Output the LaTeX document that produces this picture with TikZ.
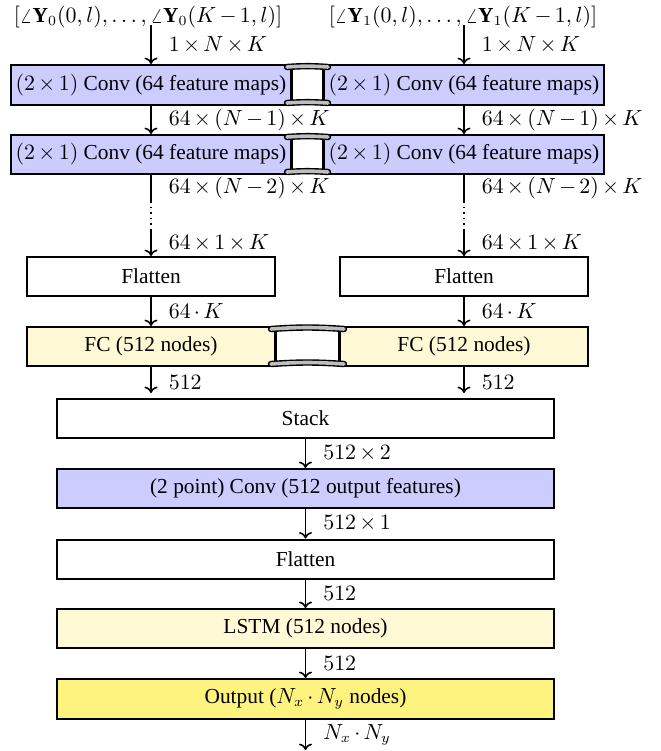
\documentclass[tikz,border=0pt]{standalone}
\usepackage{fontspec}
\setmainfont{Liberation Serif}
\usetikzlibrary{calc,arrows.meta}
\definecolor{convblue}{RGB}{204,204,255}
\definecolor{fcyellow}{RGB}{255,249,214}
\definecolor{outyellow}{RGB}{255,243,128}
\definecolor{bargray}{RGB}{190,190,190}
\medmuskip=2.7mu\relax
\begin{document}
\begin{tikzpicture}[x=0.5pt,y=-0.5pt,
  every node/.style={font=\fontsize{10.7pt}{13pt}\selectfont, inner sep=0pt},
  layer/.style={draw=black, line width=1pt, rectangle, anchor=center},
  convbox/.style={layer, fill=convblue, minimum width=140pt, minimum height=20pt},
  flatbox/.style={layer, fill=white, minimum width=124pt, minimum height=19.5pt},
  fcbox/.style={layer, fill=fcyellow, minimum width=124pt, minimum height=19.5pt},
  widebox/.style={layer, minimum width=248.5pt, minimum height=19.5pt},
  arr/.style={-{To[length=3.2pt,width=6.5pt]}, line width=0.8pt},
  lab/.style={right, xshift=8.5pt},
  shbar/.style={line width=3.2pt, line cap=round, black},
  shbarin/.style={line width=1.8pt, line cap=round, bargray}
]
\useasboundingbox (0,0) rectangle (660,751);

% inputs
\node (inL) at (148,17) {$[\angle\mathbf{Y}_0(0,l),\ldots,\angle\mathbf{Y}_0(K-1,l)]$};
\node (inR) at (463,17) {$[\angle\mathbf{Y}_1(0,l),\ldots,\angle\mathbf{Y}_1(K-1,l)]$};

% left column
\node[convbox] (c1L) at (151,85) {$(2\times1)$ Conv (64 feature maps)};
\node[convbox, minimum height=19.5pt] (c2L) at (151,154.5) {$(2\times1)$ Conv (64 feature maps)};
\node[flatbox] (fL) at (151,276.5) {Flatten};
\node[fcbox] (fcL) at (151,346.5) {FC (512 nodes)};

% right column
\node[convbox] (c1R) at (464,85) {$(2\times1)$ Conv (64 feature maps)};
\node[convbox, minimum height=19.5pt] (c2R) at (464,154.5) {$(2\times1)$ Conv (64 feature maps)};
\node[flatbox] (fR) at (464,276.5) {Flatten};
\node[fcbox] (fcR) at (464,346.5) {FC (512 nodes)};

% merged part
\node[widebox, fill=white] (st) at (305.5,418.5) {Stack};
\node[widebox, fill=convblue] (cp) at (305.5,488.5) {(2 point) Conv (512 output features)};
\node[widebox, fill=white] (fl) at (305.5,559) {Flatten};
\node[widebox, fill=fcyellow] (ls) at (305.5,628.5) {LSTM (512 nodes)};
\node[widebox, fill=outyellow, minimum height=20pt] (ou) at (305.5,699) {Output ($N_x\cdot N_y$ nodes)};
\coordinate (end) at (305.5,750);

% dotted breaks
\coordinate (dL1) at (151,201);
\coordinate (dL2) at (151,229);
\coordinate (dR1) at (464,201);
\coordinate (dR2) at (464,229);

% left arrows
\draw[arr] (inL.south -| c1L.north) ++(0,-3) -- node[lab]{$1\times N\times K$} (c1L.north);
\draw[arr] (c1L.south) -- node[lab]{$64\times(N-1)\times K$} (c2L.north);
\draw[line width=0.8pt] (c2L.south) -- node[lab]{$64\times(N-2)\times K$} (dL1);
\draw[line width=0.8pt, dotted] (dL1) -- (dL2);
\draw[arr] (dL2) -- node[lab]{$64\times1\times K$} (fL.north);
\draw[arr] (fL.south) -- node[lab]{$64\cdot K$} (fcL.north);
\draw[arr, shorten >=2.5pt] (fcL.south) -- node[lab]{$512$} (fcL.south |- st.north);

% right arrows
\draw[arr] (inR.south -| c1R.north) ++(0,-3) -- node[lab]{$1\times N\times K$} (c1R.north);
\draw[arr] (c1R.south) -- node[lab]{$64\times(N-1)\times K$} (c2R.north);
\draw[line width=0.8pt] (c2R.south) -- node[lab]{$64\times(N-2)\times K$} (dR1);
\draw[line width=0.8pt, dotted] (dR1) -- (dR2);
\draw[arr] (dR2) -- node[lab]{$64\times1\times K$} (fR.north);
\draw[arr] (fR.south) -- node[lab]{$64\cdot K$} (fcR.north);
\draw[arr, shorten >=2.5pt] (fcR.south) -- node[lab]{$512$} (fcR.south |- st.north);

% center arrows
\draw[arr] (st.south) -- node[lab]{$512\times2$} (cp.north);
\draw[arr] (cp.south) -- node[lab]{$512\times1$} (fl.north);
\draw[arr] (fl.south) -- node[lab]{$512$} (ls.north);
\draw[arr] (ls.south) -- node[lab]{$512$} (ou.north);
\draw[arr] (ou.south) -- node[lab]{$N_x\cdot N_y$} (end);

% shared-weight links
\foreach \a/\b in {c1L/c1R, c2L/c2R, fcL/fcR}{
  \draw[line width=1pt] (\a.north east) -- (\a.south east);
  \draw[line width=1pt] (\b.north west) -- (\b.south west);
  \draw[shbar] ($(\a.north east)+(-5,3)$) to[bend left=4] ($(\b.north west)+(5,3)$);
  \draw[shbarin] ($(\a.north east)+(-5,3)$) to[bend left=4] ($(\b.north west)+(5,3)$);
  \draw[shbar] ($(\a.south east)+(-5,-3)$) to[bend left=4] ($(\b.south west)+(5,-3)$);
  \draw[shbarin] ($(\a.south east)+(-5,-3)$) to[bend left=4] ($(\b.south west)+(5,-3)$);
}
\end{tikzpicture}
\end{document}
